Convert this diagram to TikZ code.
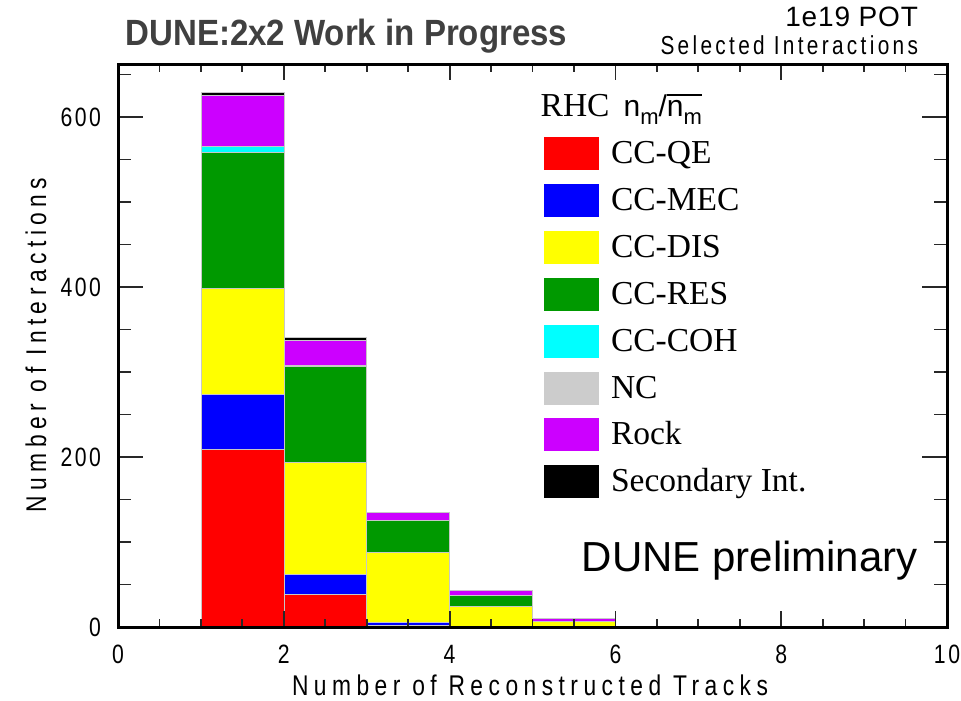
\documentclass[tikz,border=0pt]{standalone}
\usepackage{fontspec}
\setmainfont{Liberation Serif}
\newfontfamily\hsans{Liberation Sans}
\newfontfamily\rsans[LetterSpace=24]{Liberation Sans}
\newfontfamily\rsanstop[LetterSpace=16]{Liberation Sans}
\newfontfamily\rsanstick[LetterSpace=12]{Liberation Sans}
\newfontfamily\rsanspot[LetterSpace=3]{Liberation Sans}
\definecolor{cqe}{RGB}{255,0,0}
\definecolor{cmec}{RGB}{0,0,255}
\definecolor{cdis}{RGB}{255,255,0}
\definecolor{cres}{RGB}{0,153,0}
\definecolor{ccoh}{RGB}{0,255,255}
\definecolor{cnc}{RGB}{204,204,204}
\definecolor{crock}{RGB}{204,0,255}
\definecolor{csec}{RGB}{0,0,0}
\definecolor{titlegray}{RGB}{64,64,64}
\definecolor{tickgray}{RGB}{40,40,40}
\newcommand\ovlbox[1]{\setbox0=\hbox{#1}\rlap{\raisebox{\dimexpr\ht0+4.5pt\relax}{\rule{\wd0}{1.6pt}}}\box0}
\begin{document}
\begin{tikzpicture}[x=1pt,y=-1pt,
  txt/.style={inner sep=0pt,outer sep=0pt},
  bar/.style={draw=black!22,line width=0.6pt},
  tickline/.style={draw=tickgray,line width=1.8pt},
  legtext/.style={txt,anchor=base west,font=\fontsize{33.5}{38}\selectfont},
  ticklab/.style={txt,font=\rsanstick\fontsize{26.5}{30}\selectfont}]
\useasboundingbox (0,0) rectangle (961,701);
\fill[white] (0,0) rectangle (961,701);

% ---------------- histogram ----------------
\begin{scope}[shift={(118,627)},x=82.9pt,y=0.85pt]
 % bin 1
 \path[bar,fill=cqe]   (1,0)     rectangle (2,209);
 \path[bar,fill=cmec]  (1,209)   rectangle (2,274);
 \path[bar,fill=cdis]  (1,274)   rectangle (2,398);
 \path[bar,fill=cres]  (1,398)   rectangle (2,558);
 \path[bar,fill=ccoh]  (1,558)   rectangle (2,565);
 \path[bar,fill=crock] (1,565)   rectangle (2,625.5);
 \path[bar,fill=csec]  (1,625.5) rectangle (2,628.5);
 % bin 2
 \path[bar,fill=cqe]   (2,0)     rectangle (3,39);
 \path[bar,fill=cmec]  (2,39)    rectangle (3,62);
 \path[bar,fill=cdis]  (2,62)    rectangle (3,194);
 \path[bar,fill=cres]  (2,194)   rectangle (3,307);
 \path[bar,fill=cnc]   (2,307)   rectangle (3,308);
 \path[bar,fill=crock] (2,308)   rectangle (3,337);
 \path[bar,fill=csec]  (2,337)   rectangle (3,341);
 % bin 3
 \path[bar,fill=cqe]   (3,0)     rectangle (4,1.5);
 \path[bar,fill=cmec]  (3,1.5)   rectangle (4,5.5);
 \path[bar,fill=cdis]  (3,5.5)   rectangle (4,87.5);
 \path[bar,fill=cres]  (3,87.5)  rectangle (4,125.5);
 \path[bar,fill=crock] (3,125.5) rectangle (4,135.5);
 % bin 4
 \path[bar,fill=cdis]  (4,0)     rectangle (5,24);
 \path[bar,fill=cres]  (4,24)    rectangle (5,37);
 \path[bar,fill=crock] (4,37)    rectangle (5,43);
 % bin 5
 \path[bar,fill=cdis]  (5,0)     rectangle (6,7);
 \path[bar,fill=crock] (5,7)     rectangle (6,10);

 % ticks
 \foreach \i in {0,0.5,...,10}{
   \draw[tickline] (\i,0) -- ++(0pt,8pt);
   \draw[tickline] (\i,661.8) -- ++(0pt,-8pt);
 }
 \foreach \i in {0,2,...,10}{
   \draw[tickline] (\i,0) -- ++(0pt,16pt);
   \draw[tickline] (\i,661.8) -- ++(0pt,-16pt);
 }
 \foreach \c in {0,50,...,650}{
   \draw[tickline] (0,\c) -- ++(13pt,0pt);
   \draw[tickline] (10,\c) -- ++(-13pt,0pt);
 }
 \foreach \c in {0,200,400,600}{
   \draw[tickline] (0,\c) -- ++(25pt,0pt);
   \draw[tickline] (10,\c) -- ++(-25pt,0pt);
 }
 \draw[line width=3pt,line join=miter] (0,0) rectangle (10,661.8);
\end{scope}

% ---------------- tick labels ----------------
\foreach \k in {0,2,4,6,8,10}{
  \node[ticklab,anchor=base] (xt\k) at ({118+82.9*\k},663) {\scalebox{0.8}[1]{\k}};
}
\foreach \c in {0,200,400,600}{
  \node[ticklab,anchor=base east] (yt\c) at (101,{627-0.85*\c+9.5}) {\scalebox{0.8}[1]{\c}};
}

% ---------------- axis titles ----------------
\node[txt,anchor=base,font=\rsans\fontsize{28.5}{30}\selectfont] (xtitle) at (530,695)
  {\scalebox{0.8}[1]{Number of Reconstructed Tracks}};
\node[txt,anchor=base,rotate=90,font=\rsans\fontsize{28.5}{30}\selectfont] (ytitle) at (46,345)
  {\scalebox{0.8}[1]{Number of Interactions}};

% ---------------- titles ----------------
\node[txt,anchor=base west,text=titlegray,font=\hsans\bfseries\fontsize{36.5}{40}\selectfont] (title) at (125.5,45.7)
  {\scalebox{0.905}[1]{DUNE:2x2 Work in Progress}};
\node[txt,anchor=base east,font=\rsanspot\fontsize{28}{30}\selectfont] (pot) at (918,26.5)
  {1e19 POT};
\node[txt,anchor=base east,font=\rsanstop\fontsize{26}{30}\selectfont] (sel) at (918,55)
  {\scalebox{0.8}[1]{Selected Interactions}};
\node[txt,anchor=base west,font=\hsans\fontsize{42}{48}\selectfont] (prelim) at (581.7,571.7)
  {DUNE preliminary};

% ---------------- legend ----------------
\node[legtext] (leghead) at (540.7,116.7)
  {RHC\hspace{14pt}{\hsans\fontsize{30}{30}\selectfont n\raisebox{-8pt}{\fontsize{22}{24}\selectfont m}/\ovlbox{n\raisebox{-8pt}{\fontsize{22}{24}\selectfont m}}}};
\foreach \lab/\col [count=\i from 0] in {CC-QE/cqe,CC-MEC/cmec,CC-DIS/cdis,CC-RES/cres,CC-COH/ccoh,NC/cnc,Rock/crock,Secondary Int./csec}{
  \fill[\col] (544,{137+46.9*\i}) rectangle ++(55,33);
  \node[legtext] (leg\i) at (611,{137+46.9*\i+26.5}) {\lab};
}
\end{tikzpicture}
\end{document}
